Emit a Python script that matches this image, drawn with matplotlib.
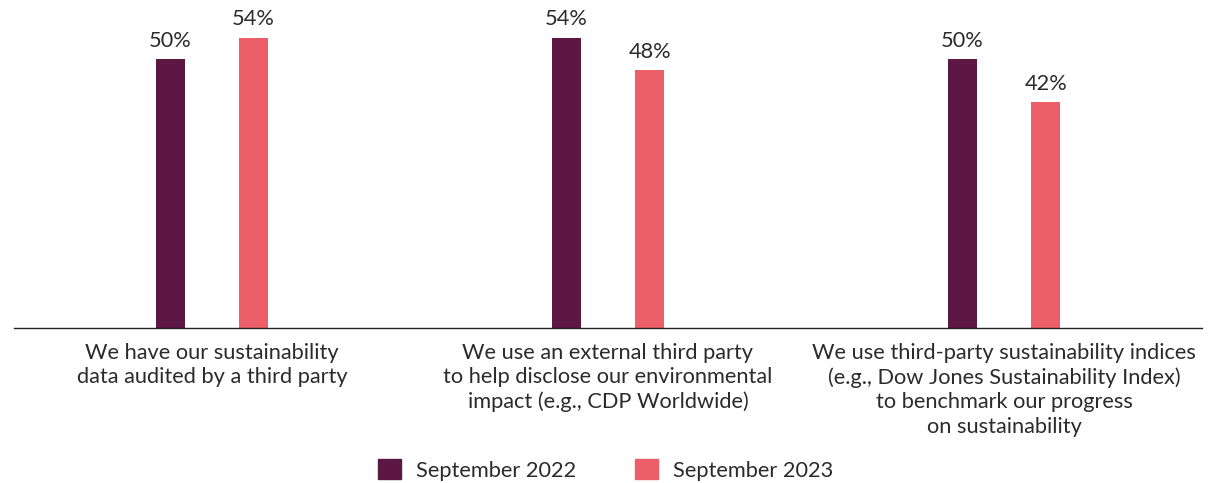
import matplotlib
matplotlib.use("Agg")
import matplotlib.pyplot as plt
import numpy as np
from matplotlib.patches import Patch

categories = [
    "We have our sustainability\ndata audited by a third party",
    "We use an external third party\nto help disclose our environmental\nimpact (e.g., CDP Worldwide)",
    "We use third-party sustainability indices\n(e.g., Dow Jones Sustainability Index)\nto benchmark our progress\non sustainability",
]
series_names = ["September 2022", "September 2023"]
sep_2022 = [50, 54, 50]
sep_2023 = [54, 48, 42]

DARK = "#5C1842"
PINK = "#EC5F69"
TEXT = "#2b2b2b"
FS = 15.7

plt.rcParams["font.family"] = ["Lato", "DejaVu Sans"]

fig = plt.figure(figsize=(12.18, 4.83), dpi=100)
ax = fig.add_axes([14 / 1218, 155 / 483, 1188 / 1218, 328 / 483])

x = np.arange(len(categories))
w = 0.074
off = 0.105
b1 = ax.bar(x - off, sep_2022, width=w, color=DARK)
b2 = ax.bar(x + off, sep_2023, width=w, color=PINK)

for bars, vals in ((b1, sep_2022), (b2, sep_2023)):
    for r, v in zip(bars, vals):
        ax.annotate(f"{v}%", (r.get_x() + r.get_width() / 2, v),
                    xytext=(0, 6), textcoords="offset points",
                    ha="center", va="bottom", fontsize=FS, color=TEXT)

ax.set_xlim(-0.5, 2.5)
ax.set_ylim(0, 61)
ax.set_yticks([])
ax.set_xticks(x)
ax.set_xticklabels(categories, fontsize=FS, color=TEXT, linespacing=1.28)
ax.tick_params(axis="x", length=0, pad=10.5)
for s in ("top", "right", "left"):
    ax.spines[s].set_visible(False)
ax.spines["bottom"].set_color("#222222")
ax.spines["bottom"].set_linewidth(1.0)

handles = [Patch(color=DARK), Patch(color=PINK)]
fig.legend(handles, series_names, loc="center", bbox_to_anchor=(0.497, 0.027),
           ncol=2, frameon=False, fontsize=FS, handlelength=1.05,
           handleheight=1.05, handletextpad=0.69, columnspacing=2.7,
           labelcolor=TEXT)

fig.savefig("out.png", dpi=100)
